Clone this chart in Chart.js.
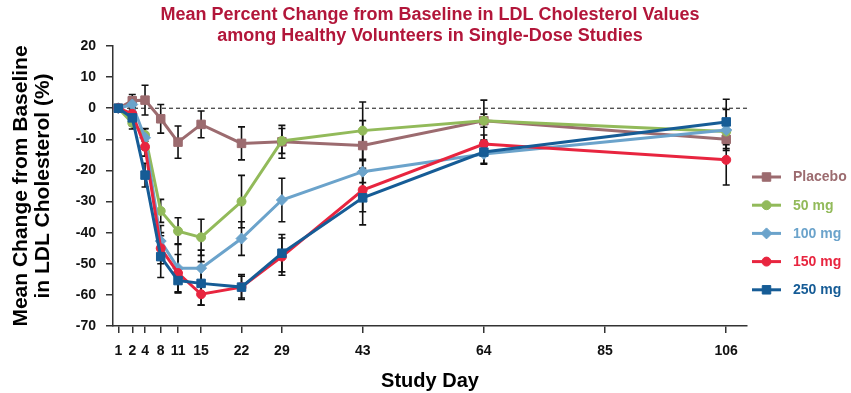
<!DOCTYPE html>
<html>
<head>
<meta charset="utf-8">
<title>LDL Cholesterol change</title>
<script src="https://cdn.jsdelivr.net/npm/chart.js@4.4.1/dist/chart.umd.min.js"></script>
<style>
  html, body { margin: 0; padding: 0; background: #fff; }
  #wrap { width: 851px; height: 393px; position: relative; }
</style>
</head>
<body>
<div id="wrap"><canvas id="ldlChart"></canvas></div>
<script>
// study days where values were measured, and the day ticks on the axis
var studyDays = [1, 2, 4, 8, 11, 15, 22, 29, 43, 64, 106];
var dayTicks = [1, 2, 4, 8, 11, 15, 22, 29, 43, 64, 85, 106];

// mean % change from baseline, and error bar half-lengths
var placeboMean = [0, 2.4, 2.6, -3.4, -10.9, -5.2, -11.3, -10.8, -12.0, -4.0, -10.0];
var placeboErr  = [0, 2.0, 4.8, 4.6, 5.2, 4.3, 5.3, 5.3, 8.0, 6.6, 3.0];
var mg50Mean    = [0, -4.7, -8.6, -33.0, -39.5, -41.5, -30.0, -10.5, -7.2, -4.0, -7.5];
var mg50Err     = [0, 2.0, 2.0, 3.7, 4.3, 5.8, 8.4, 4.0, 9.2, 2.1, 3.0];
var mg100Mean   = [0, 1.2, -9.5, -42.7, -51.4, -51.4, -41.9, -29.5, -20.4, -14.7, -7.0];
var mg100Err    = [0, 2.5, 3.0, 5.0, 7.8, 5.8, 5.4, 7.0, 3.5, 3.0, 6.6];
var mg150Mean   = [0, -1.8, -12.4, -45.0, -53.0, -59.8, -57.5, -47.7, -26.3, -11.5, -16.6];
var mg150Err    = [0, 2.0, 3.0, 5.0, 6.0, 3.5, 4.0, 6.0, 7.0, 2.9, 8.1];
var mg250Mean   = [0, -3.1, -21.5, -47.7, -55.4, -56.3, -57.5, -46.6, -28.8, -14.1, -4.4];
var mg250Err    = [0, 2.5, 3.8, 6.7, 4.0, 7.0, 3.5, 6.0, 8.7, 3.9, 7.3];

var seriesNames = ['Placebo', '50 mg', '100 mg', '150 mg', '250 mg'];
var seriesColors = ['#9C6B6F', '#92BA5A', '#6BA3CB', '#E8253F', '#165C96'];

// the first days are spread out on the original axis, from day 8 on it is plain linear
var warpFrom = [1, 2, 4, 8];
var warpTo = [0.65, 3.07, 5.28, 8];
function warpDay(d) {
  if (d >= 8) return d;
  if (d <= 1) return warpTo[0] - (1 - d) * (warpTo[1] - warpTo[0]);
  for (var i = 0; i < warpFrom.length - 1; i++) {
    if (d <= warpFrom[i + 1]) {
      var t = (d - warpFrom[i]) / (warpFrom[i + 1] - warpFrom[i]);
      return warpTo[i] + t * (warpTo[i + 1] - warpTo[i]);
    }
  }
  return d;
}
class DayScale extends Chart.LinearScale {
  getPixelForValue(v) {
    return super.getPixelForValue(warpDay(v));
  }
}
DayScale.id = 'studyday';
Chart.register(DayScale);

function points(mean) {
  return studyDays.map(function (d, i) { return { x: d, y: mean[i] }; });
}

function makeDataset(idx, mean, err, style, radius) {
  var c = seriesColors[idx];
  return {
    label: seriesNames[idx],
    data: points(mean),
    errorBars: err,
    borderColor: c,
    backgroundColor: c,
    borderWidth: 3,
    tension: 0,
    pointStyle: style,
    pointRadius: radius,
    pointBackgroundColor: c,
    pointBorderColor: c,
    pointBorderWidth: 1,
    order: 5 - idx
  };
}

var fontFam = "'Liberation Sans', Arial, Helvetica, sans-serif";

// dashed baseline at 0 and the black error bars, under the lines
var underLines = {
  id: 'underLines',
  beforeDatasetsDraw: function (chart) {
    var ctx = chart.ctx, area = chart.chartArea;
    var xs = chart.scales.x, ys = chart.scales.y;
    ctx.save();
    var y0 = ys.getPixelForValue(0);
    ctx.strokeStyle = '#111';
    ctx.lineWidth = 1;
    ctx.setLineDash([4, 3]);
    ctx.beginPath();
    ctx.moveTo(area.left, y0);
    ctx.lineTo(area.right, y0);
    ctx.stroke();
    ctx.setLineDash([]);

    ctx.strokeStyle = '#111';
    ctx.lineWidth = 1.6;
    chart.data.datasets.forEach(function (ds) {
      ds.data.forEach(function (p, i) {
        var e = ds.errorBars[i];
        if (!e) return;
        var x = xs.getPixelForValue(p.x);
        var yt = ys.getPixelForValue(p.y + e);
        var yb = ys.getPixelForValue(p.y - e);
        ctx.beginPath();
        ctx.moveTo(x, yt); ctx.lineTo(x, yb);
        ctx.moveTo(x - 3.5, yt); ctx.lineTo(x + 3.5, yt);
        ctx.moveTo(x - 3.5, yb); ctx.lineTo(x + 3.5, yb);
        ctx.stroke();
      });
    });
    ctx.restore();
  }
};

// legend to the right: line with marker, coloured bold text
var sideLegend = {
  id: 'sideLegend',
  afterDraw: function (chart) {
    var ctx = chart.ctx, area = chart.chartArea;
    ctx.save();
    chart.data.datasets.forEach(function (ds, i) {
      var y = area.top + 131 + i * 28.2;
      var x0 = area.right + 5;
      ctx.strokeStyle = ds.borderColor;
      ctx.lineWidth = 3;
      ctx.beginPath();
      ctx.moveTo(x0, y);
      ctx.lineTo(x0 + 29, y);
      ctx.stroke();
      ctx.fillStyle = ds.borderColor;
      ctx.lineWidth = 1;
      Chart.helpers.drawPoint(ctx, { pointStyle: ds.pointStyle, radius: ds.pointRadius, borderWidth: 1, rotation: 0 }, x0 + 14.5, y);
      ctx.font = 'bold 14px ' + fontFam;
      ctx.textAlign = 'left';
      ctx.textBaseline = 'middle';
      ctx.fillText(ds.label, x0 + 41, y + 0.5);
    });
    ctx.restore();
  }
};

var ctx = document.getElementById('ldlChart').getContext('2d');
new Chart(ctx, {
  type: 'line',
  data: {
    datasets: [
      makeDataset(0, placeboMean, placeboErr, 'rect', 6),
      makeDataset(1, mg50Mean, mg50Err, 'circle', 4.5),
      makeDataset(2, mg100Mean, mg100Err, 'rectRot', 5.5),
      makeDataset(3, mg150Mean, mg150Err, 'circle', 4.5),
      makeDataset(4, mg250Mean, mg250Err, 'rect', 6)
    ]
  },
  options: {
    responsive: true,
    maintainAspectRatio: false,
    devicePixelRatio: 1,
    animation: false,
    events: [],
    layout: { padding: { left: 0, right: 104, top: 0, bottom: 0 } },
    scales: {
      x: {
        type: 'studyday',
        min: -0.27,
        max: 109.6,
        afterBuildTicks: function (scale) {
          scale.ticks = dayTicks.map(function (v) { return { value: v }; });
        },
        afterFit: function (scale) { scale.height = 67; },
        ticks: {
          autoSkip: false,
          maxRotation: 0,
          minRotation: 0,
          padding: 10,
          color: '#111',
          font: { family: fontFam, size: 14, weight: 'bold' },
          callback: function (v) { return String(v); }
        },
        grid: { display: true, drawOnChartArea: false, drawTicks: true, tickLength: 7, color: '#333', lineWidth: 1.5 },
        border: { display: true, color: '#333', width: 1.5 },
        title: {
          display: true,
          text: 'Study Day',
          color: '#000',
          padding: { top: 0, bottom: 0 },
          font: { family: fontFam, size: 20, weight: 'bold' }
        }
      },
      y: {
        type: 'linear',
        min: -70,
        max: 20,
        afterFit: function (scale) { scale.width = 113; },
        ticks: {
          stepSize: 10,
          padding: 10,
          color: '#111',
          font: { family: fontFam, size: 14, weight: 'bold' }
        },
        grid: { display: true, drawOnChartArea: false, drawTicks: true, tickLength: 7, color: '#333', lineWidth: 1.5 },
        border: { display: true, color: '#333', width: 1.5 },
        title: {
          display: true,
          text: ['Mean Change from Baseline', 'in LDL Cholesterol (%)'],
          color: '#000',
          padding: { top: 10, bottom: 0 },
          font: { family: fontFam, size: 21, weight: 'bold', lineHeight: 1.05 }
        }
      }
    },
    plugins: {
      legend: { display: false },
      tooltip: { enabled: false },
      title: {
        display: true,
        fullSize: false,
        text: ['Mean Percent Change from Baseline in LDL Cholesterol Values',
               'among Healthy Volunteers in Single-Dose Studies'],
        color: '#B2163A',
        padding: { top: 5, bottom: -1 },
        font: { family: fontFam, size: 18, weight: 'bold', lineHeight: '21px' }
      }
    }
  },
  plugins: [underLines, sideLegend]
});
</script>
</body>
</html>
